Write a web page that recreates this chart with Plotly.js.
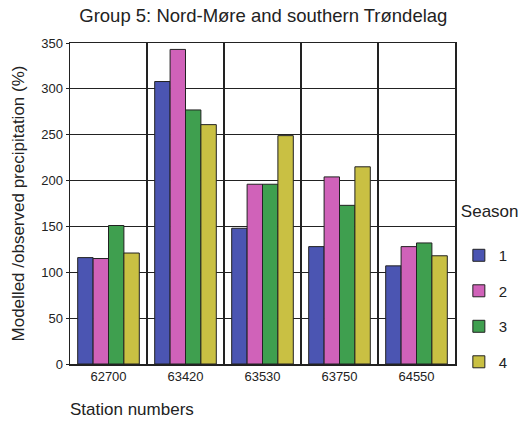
<!DOCTYPE html>
<html>
<head>
<meta charset="utf-8">
<script src="https://cdn.plot.ly/plotly-3.0.1.min.js"></script>
<style>html,body{margin:0;padding:0;background:#fff;}#chart{width:532px;height:428px;}</style>
</head>
<body>
<div id="chart"></div>
<script>
const stations = ["62700", "63420", "63530", "63750", "64550"];
const seasonNames = ["1", "2", "3", "4"];
const season1 = [116, 308, 148, 128, 107];
const season2 = [115, 343, 196, 204, 128];
const season3 = [151, 277, 196, 173, 132];
const season4 = [121, 261, 249, 215, 118];
const colors = ["#4b55b2", "#d062b9", "#3f9f4f", "#c9c043"];

const seriesValues = [season1, season2, season3, season4];
const traces = seriesValues.map((vals, i) => ({
  type: "bar",
  name: seasonNames[i],
  x: stations,
  y: vals,
  legendgroup: "g" + i,
  marker: {color: colors[i], line: {color: "#222", width: 1}}
}));

const font = "Liberation Sans, Arial, sans-serif";
const layout = {
  width: 532, height: 428,
  margin: {l: 70, r: 77, t: 43, b: 64, autoexpand: false},
  paper_bgcolor: "#fff", plot_bgcolor: "#fff",
  font: {family: font, color: "#222", size: 13},
  title: {text: "Group 5: Nord-Møre and southern Trøndelag", font: {size: 18.5, family: font}, x: 0.495, xanchor: "center", y: 0.98, yanchor: "top"},
  barmode: "group", bargap: 0.2, bargroupgap: 0,
  xaxis: {
    type: "category", showgrid: true, gridcolor: "#222", gridwidth: 1.2,
    tickson: "boundaries", ticks: "", showline: true, linecolor: "#222", linewidth: 1.5, mirror: true,
    tickfont: {size: 13}
  },
  yaxis: {
    range: [0, 350], dtick: 50, showgrid: true, gridcolor: "#222", gridwidth: 1.2,
    showline: true, linecolor: "#222", linewidth: 1.5, mirror: true, zeroline: false,
    ticks: "outside", ticklen: 3, tickcolor: "#222", tickfont: {size: 13},
    title: {text: "Modelled /observed precipitation (%)", font: {size: 17}, standoff: 12}
  },
  legend: {
    title: {text: "Season<br> ", font: {size: 17}},
    x: 1.01, xanchor: "left", y: 0.527, yanchor: "top",
    font: {size: 15}, tracegroupgap: 13, traceorder: "grouped", bgcolor: "rgba(0,0,0,0)",
    itemwidth: 30
  },
  annotations: [{
    text: "Station numbers", xref: "paper", yref: "paper", x: -0.005, y: -0.143,
    xanchor: "left", yanchor: "middle", showarrow: false, font: {size: 17}
  }]
};

Plotly.newPlot("chart", traces, layout, {displayModeBar: false, staticPlot: true});
</script>
</body>
</html>
